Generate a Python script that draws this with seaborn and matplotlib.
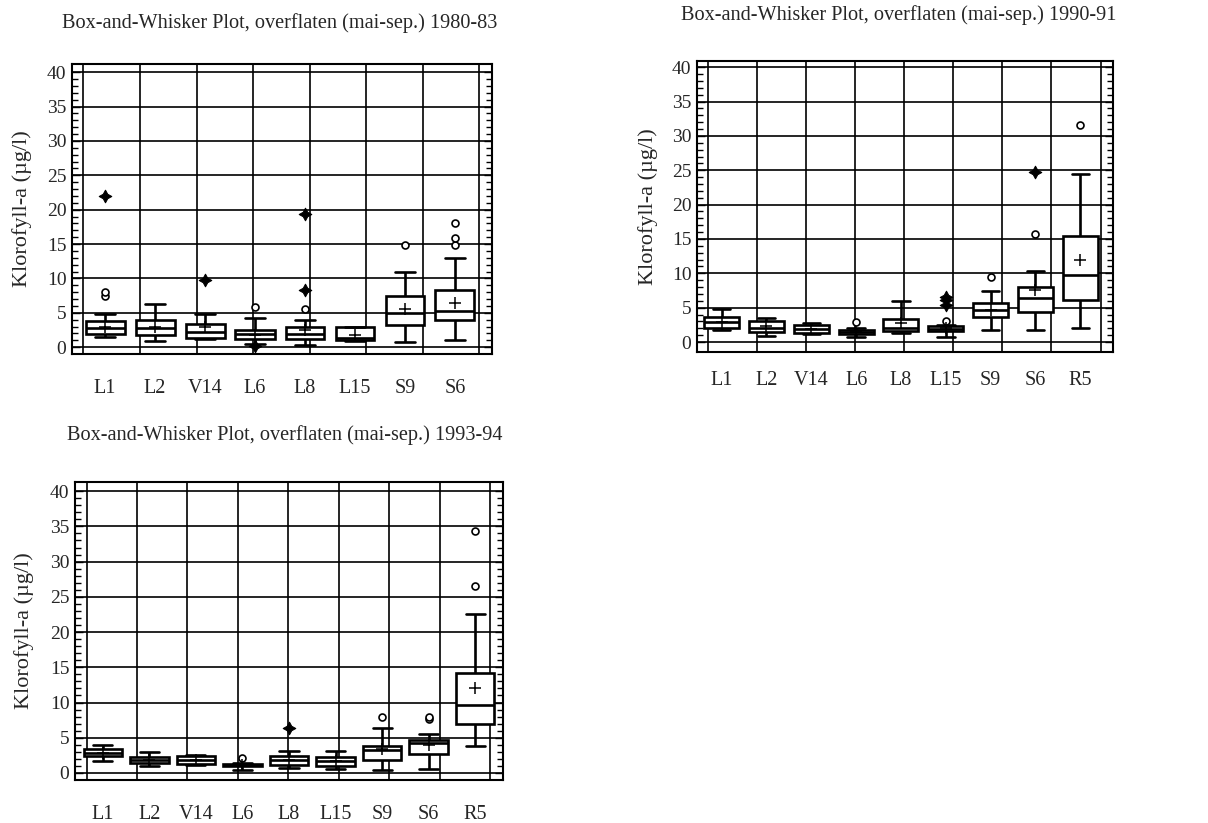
import numpy as np
import pandas as pd
import matplotlib
matplotlib.use("Agg")
import matplotlib.pyplot as plt
import seaborn as sns

sns.set_theme(style="white")
plt.rcParams['font.family'] = ['Liberation Serif', 'DejaVu Serif']

# --- 1980-83 ---
st_a = ["L1", "L2", "V14", "L6", "L8", "L15", "S9", "S6"]
lo_a = [1.45, 0.9, 1.2, 0.5, 0.25, 0.9, 0.7, 1.05]
q1_a = [1.9, 1.8, 1.4, 1.2, 1.2, 1.0, 3.15, 4.0]
med_a = [2.8, 2.8, 2.2, 1.9, 1.9, 1.35, 5.0, 5.25]
q3_a = [3.8, 4.0, 3.3, 2.5, 2.9, 2.9, 7.4, 8.25]
hi_a = [4.85, 6.3, 4.85, 4.3, 4.0, 3.0, 10.9, 13.0]
mean_a = [2.9, 2.9, 3.0, 1.8, 2.5, 1.7, 5.6, 6.45]
circ_st_a = ["L1", "L1", "L6", "L8", "S9", "S6", "S6", "S6"]
circ_v_a = [7.5, 8.0, 5.8, 5.6, 14.8, 14.8, 15.9, 18.05]
star_st_a = ["L1", "V14", "L6", "L8", "L8"]
star_v_a = [22.0, 9.8, 0.2, 8.35, 19.4]

# --- 1990-91 ---
st_b = ["L1", "L2", "V14", "L6", "L8", "L15", "S9", "S6", "R5"]
lo_b = [1.8, 0.9, 1.15, 0.7, 1.3, 0.8, 1.7, 1.8, 2.0]
q1_b = [2.0, 1.45, 1.3, 1.15, 1.55, 1.65, 3.7, 4.3, 6.15]
med_b = [2.85, 2.1, 1.9, 1.45, 2.0, 1.95, 4.7, 6.4, 9.8]
q3_b = [3.7, 3.0, 2.5, 1.8, 3.4, 2.3, 5.65, 8.0, 15.4]
hi_b = [4.8, 3.5, 2.75, 2.0, 6.0, 2.5, 7.45, 10.4, 24.5]
mean_b = [2.9, 2.3, 1.9, 1.5, 2.75, 2.0, 4.7, 7.6, 11.95]
circ_st_b = ["L6", "L15", "S9", "S6", "R5"]
circ_v_b = [2.85, 3.0, 9.45, 15.7, 31.6]
star_st_b = ["L15", "L15", "L15", "S6"]
star_v_b = [5.4, 6.15, 6.6, 24.8]

# --- 1993-94 ---
st_c = ["L1", "L2", "V14", "L6", "L8", "L15", "S9", "S6", "R5"]
lo_c = [1.7, 1.0, 1.2, 0.4, 0.7, 0.6, 0.4, 0.6, 3.8]
q1_c = [2.35, 1.4, 1.3, 1.0, 1.2, 1.0, 1.8, 2.75, 6.9]
med_c = [2.9, 1.9, 1.8, 1.2, 1.8, 1.65, 3.2, 4.3, 9.6]
q3_c = [3.45, 2.25, 2.35, 1.3, 2.35, 2.2, 3.85, 4.65, 14.2]
hi_c = [3.9, 3.0, 2.5, 1.35, 3.1, 3.1, 6.4, 5.6, 22.5]
mean_c = [2.9, 1.9, 1.8, 1.2, 1.8, 1.65, 3.45, 4.0, 12.1]
circ_st_c = ["L6", "S9", "S6", "S6", "R5", "R5"]
circ_v_c = [2.1, 7.95, 7.6, 7.9, 26.5, 34.3]
star_st_c = ["L8"]
star_v_c = [6.4]

ylabel = "Klorofyll-a (µg/l)"


def panel(ax, st, lo, q1, med, q3, hi, mean, cst, cv, sst, sv, width, xlim, ylim, tpad):
    box = pd.DataFrame({"station": np.repeat(st, 5),
                        "value": np.column_stack([lo, q1, med, q3, hi]).ravel()})
    ax.set_axisbelow(True)
    sns.boxplot(data=box, x="station", y="value", order=st, whis=(0, 100),
                width=width, color="white", linecolor="black", linewidth=1.9,
                showfliers=False, ax=ax)
    sns.stripplot(x=cst, y=cv, order=st, jitter=False, marker="o", size=5,
                  color="white", edgecolor="black", linewidth=1.2, ax=ax, zorder=5)
    sns.stripplot(x=sst, y=sv, order=st, jitter=False, marker=(4, 1, 0), size=9,
                  color="black", linewidth=0.8, edgecolor="black", ax=ax, zorder=5)
    sns.stripplot(x=st, y=mean, order=st, jitter=False, marker="+", size=9,
                  color="black", linewidth=1.1, ax=ax, zorder=5)
    ax.set_xlim(*xlim)
    ax.set_ylim(*ylim)
    ax.set_yticks(np.arange(0, 41, 5))
    ax.set_yticks(np.arange(0, 41, 1), minor=True)
    ax.grid(axis="y", which="major", color="black", linewidth=1.2)
    ax.vlines(np.linspace(0.027, 0.97, len(st)), 0, 1, transform=ax.transAxes,
              color="black", linewidth=1.2, zorder=0)
    ax.tick_params(axis="y", which="both", direction="in", left=True, right=True,
                   labelsize=14, pad=4, color="black")
    ax.tick_params(axis="y", which="major", length=6, width=1)
    ax.tick_params(axis="y", which="minor", length=4, width=1)
    ax.tick_params(axis="x", length=0, labelsize=14.5, pad=tpad)
    ax.set_xlabel("")
    ax.set_ylabel(ylabel, fontsize=16, va="center")
    for s in ax.spines.values():
        s.set_color("black")
        s.set_linewidth(1.5)


fig = plt.figure(figsize=(12.08, 8.23), dpi=100)
W, H = 1208, 823

ax1 = fig.add_axes([72 / W, (H - 354) / H, 420 / W, 290 / H])
panel(ax1, st_a, lo_a, q1_a, med_a, q3_a, hi_a, mean_a, circ_st_a, circ_v_a,
      star_st_a, star_v_a, 0.78, (-0.66, 7.74), (-1.0, 41.2), 18)
ax1.yaxis.set_label_coords(-50 / 420, 0.5)

ax2 = fig.add_axes([697 / W, (H - 352) / H, 416 / W, 291 / H])
panel(ax2, st_b, lo_b, q1_b, med_b, q3_b, hi_b, mean_b, circ_st_b, circ_v_b,
      star_st_b, star_v_b, 0.78, (-0.55, 8.73), (-1.45, 40.9), 14)
ax2.yaxis.set_label_coords(-49 / 416, 0.5)

ax3 = fig.add_axes([75 / W, (H - 780) / H, 428 / W, 298 / H])
panel(ax3, st_c, lo_c, q1_c, med_c, q3_c, hi_c, mean_c, circ_st_c, circ_v_c,
      star_st_c, star_v_c, 0.82, (-0.60, 8.60), (-1.0, 41.3), 18)
ax3.yaxis.set_label_coords(-51 / 428, 0.5)

fig.text(280 / W, 1 - 23 / H, "Box-and-Whisker Plot, overflaten (mai-sep.) 1980-83",
         ha="center", va="center", fontsize=14.6)
fig.text(899 / W, 1 - 15 / H, "Box-and-Whisker Plot, overflaten (mai-sep.) 1990-91",
         ha="center", va="center", fontsize=14.6)
fig.text(285 / W, 1 - 435 / H, "Box-and-Whisker Plot, overflaten (mai-sep.) 1993-94",
         ha="center", va="center", fontsize=14.6)

fig.savefig("out.png", dpi=100)
